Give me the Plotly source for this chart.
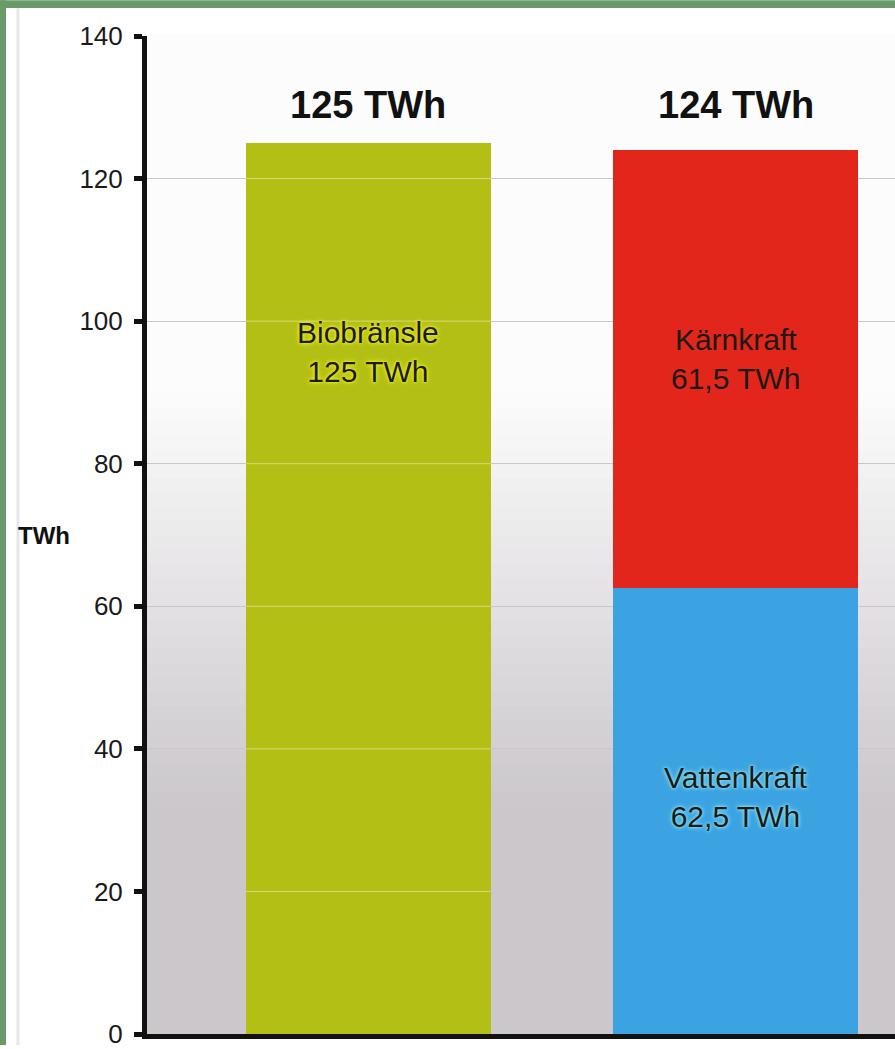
import plotly.graph_objects as go

# ---------------- data ----------------
categories = ["Förnybart", "Kärn- och vattenkraft"]
sources = ["Biobränsle", "Vattenkraft", "Kärnkraft"]
source_category = ["Förnybart", "Kärn- och vattenkraft", "Kärn- och vattenkraft"]
source_values = [125, 62.5, 61.5]
y_ticks = [0, 20, 40, 60, 80, 100, 120, 140]
unit = "TWh"

# ---------------- style ----------------
bar_colors = {"Biobränsle": "#b3bf14", "Vattenkraft": "#3ba3e2", "Kärnkraft": "#e3261b"}
glow = {"Biobränsle": "0px 0px 3px #f4f41e, 0px 0px 5px #f4f41e",
        "Vattenkraft": "0px 0px 3px #8fe6f4, 0px 0px 5px #8fe6f4",
        "Kärnkraft": "none"}
BAR_W = 0.668
FONT = "Liberation Sans, Arial, sans-serif"
Y_MAX = 140
TOP_LABEL_Y = 130.3
INNER_OFFSET = 29.3
W, H = 895, 1049
ML, MR, MT, MB = 147, 0, 36, 11
PW, PH = W - ML - MR, H - MT - MB

def sv(v):
    s = f"{v:g}"
    return s.replace(".", ",")

fig = go.Figure()
for s, c, v in zip(sources, source_category, source_values):
    fig.add_trace(go.Bar(
        x=[c], y=[v], name=s, width=BAR_W,
        marker=dict(color=bar_colors[s], line=dict(width=0)),
        showlegend=False, hoverinfo="skip",
    ))

# totals and labels
totals = {c: 0 for c in categories}
annotations = []
for s, c, v in zip(sources, source_category, source_values):
    totals[c] += v
    annotations.append(dict(
        x=c, y=totals[c] - INNER_OFFSET, xref="x", yref="y",
        text=f"{s}<br>{sv(v)} {unit}", showarrow=False,
        font=dict(family=FONT, size=30, color="#1c1a14", shadow=glow[s]),
        align="center",
    ))
for c in categories:
    annotations.append(dict(
        x=c, y=TOP_LABEL_Y, xref="x", yref="y",
        text=f"<b>{sv(totals[c])} {unit}</b>", showarrow=False,
        font=dict(family=FONT, size=38, color="#111111"),
    ))
annotations.append(dict(
    x=(44 - ML) / PW, y=(H - MB - 538) / PH, xref="paper", yref="paper",
    xanchor="center", yanchor="middle", text=f"<b>{unit}</b>",
    showarrow=False, font=dict(family=FONT, size=24, color="#111111"),
))

shapes = []
# background gradient (white at top, grey towards bottom)
N = 70
top_c = (252, 252, 252)
bot_c = (203, 199, 203)
for i in range(N):
    f0 = i / N
    f1 = (i + 1) / N
    v = (f0 + f1) / 2 * Y_MAX
    t = min(max((90 - v) / 58, 0), 1)
    col = tuple(int(round(top_c[k] + (bot_c[k] - top_c[k]) * t)) for k in range(3))
    shapes.append(dict(type="rect", xref="x domain", yref="y domain",
                       x0=0, x1=1, y0=f0, y1=f1 + 0.002, layer="below",
                       line=dict(width=0), fillcolor=f"rgb{col}"))
# faint gridlines showing through the first bar
cat_index = {c: i for i, c in enumerate(categories)}
for yv in y_ticks[1:-1]:
    i = cat_index[source_category[0]]
    shapes.append(dict(type="line", xref="x", yref="y",
                       x0=i - BAR_W / 2, x1=i + BAR_W / 2, y0=yv, y1=yv,
                       layer="above", line=dict(color="rgba(255,255,255,0.45)", width=1)))
# green frame of the scan
shapes.append(dict(type="rect", xref="paper", yref="paper",
                   x0=-ML / PW, x1=1.0, y0=1 + (MT - 8) / PH, y1=1 + MT / PH,
                   line=dict(width=0), fillcolor="#6b9a6a", layer="above"))
shapes.append(dict(type="rect", xref="paper", yref="paper",
                   x0=-ML / PW, x1=-(ML - 6) / PW, y0=-MB / PH, y1=1 + MT / PH,
                   line=dict(width=0), fillcolor="#6b9a6a", layer="above"))
shapes.append(dict(type="line", xref="paper", yref="paper",
                   x0=-(ML - 18) / PW, x1=-(ML - 18) / PW, y0=-MB / PH, y1=1 + (MT - 8) / PH,
                   line=dict(color="#e6e6ef", width=3), layer="above"))

fig.update_layout(
    width=W, height=H,
    margin=dict(l=ML, r=MR, t=MT, b=MB, pad=0),
    paper_bgcolor="#ffffff", plot_bgcolor="#ffffff",
    barmode="stack",
    annotations=annotations, shapes=shapes,
    xaxis=dict(type="category", categoryorder="array", categoryarray=categories,
               range=[-0.6035, 1.4346], showticklabels=False, ticks="",
               showgrid=False, zeroline=False, showline=True,
               linecolor="#111111", linewidth=5, fixedrange=True),
    yaxis=dict(range=[0, Y_MAX], tickvals=y_ticks, ticktext=[str(t) for t in y_ticks],
               ticks="outside", ticklen=8, tickwidth=5, tickcolor="#111111",
               ticklabelstandoff=6, ticklabeloverflow="allow",
               showline=True, linecolor="#111111", linewidth=5,
               showgrid=True, gridcolor="#c8c8cc", gridwidth=1, zeroline=False,
               tickfont=dict(family=FONT, size=26, color="#1a1a1a")),
    font=dict(family=FONT),
)

fig.write_html("out.html", config={"displayModeBar": False},
               post_script="document.body.style.margin='0px';")
